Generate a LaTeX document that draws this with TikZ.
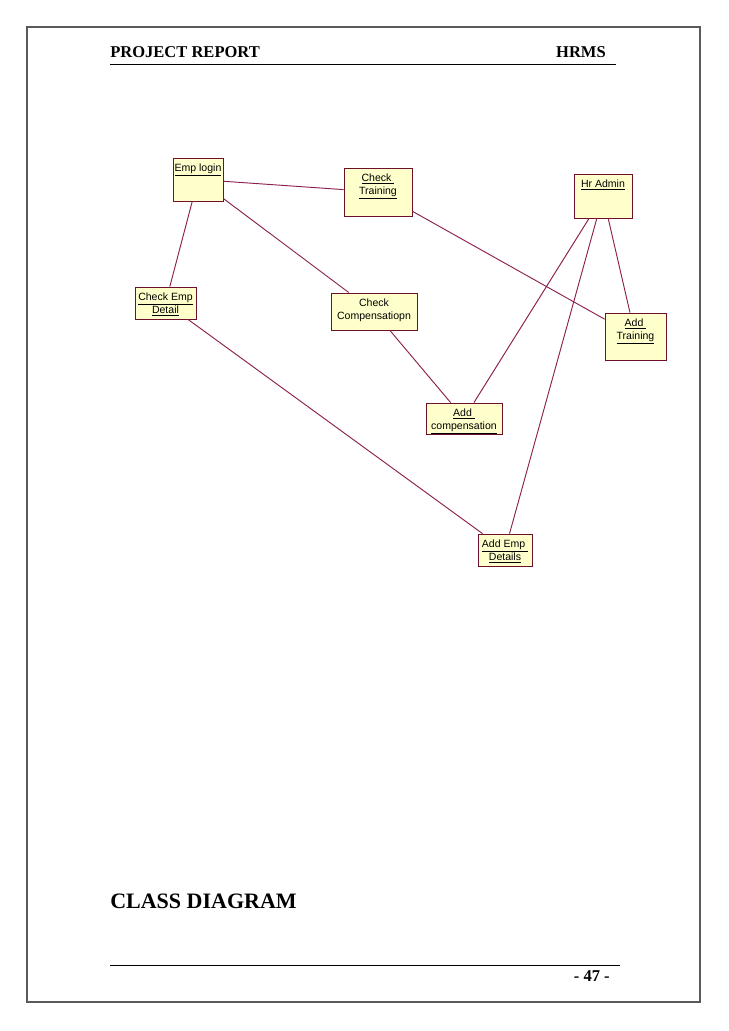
\documentclass[tikz,border=0pt]{standalone}
\usepackage{fontspec}
\setmainfont{Liberation Serif}
\newfontfamily\umlfont{Liberation Sans}
\usetikzlibrary{positioning}
\definecolor{rosefill}{HTML}{FFFFCC}
\definecolor{roseline}{HTML}{8C1F4F}
\definecolor{rosedraw}{HTML}{6E0F2C}
\definecolor{pagegray}{HTML}{5A5A5A}
\tikzset{
  boxsize/.style 2 args={minimum width=#1*0.75pt, minimum height=#2*0.75pt},
}

\begin{document}
\begin{tikzpicture}[
  x=0.75pt, y=-0.75pt,
  classbox/.style={rectangle, draw=rosedraw, fill=rosefill, line width=0.6pt, inner sep=0pt},
  boxtext/.style={font=\fontsize{7.9}{9.75}\selectfont\umlfont, align=center, inner sep=0pt, anchor=north, yshift=-4.3pt},
  assoc/.style={draw=roseline, line width=0.7pt},
  headtext/.style={font=\fontsize{12.4}{14}\selectfont\bfseries, inner sep=0pt},
]
\useasboundingbox (0,0) rectangle (728,1031);

% Page frame and header
\draw[pagegray, line width=1.5pt] (27,27) rectangle (700,1002);
\node[headtext, anchor=base west] (report) at (110,58) {PROJECT REPORT};
\node[headtext, anchor=base east] (hrms) at (606,58) {HRMS};
\draw[line width=0.75pt] (110,64.7) -- (616,64.7);

% Classes
\node[classbox, boxsize={50}{43}, label={[boxtext]north:\underline{Emp login}}] (emplogin) at (198,179.5) {};
\node[classbox, boxsize={68}{48}, label={[boxtext]north:\underline{Check\ }\\\underline{Training}}] (chktrain) at (378,192) {};
\node[classbox, boxsize={58}{44}, label={[boxtext]north:\underline{Hr Admin}}] (hradmin) at (603,196) {};
\node[classbox, boxsize={61}{47}, label={[boxtext]north:\underline{Add\ }\\\underline{Training}}] (addtrain) at (635.5,336.5) {};
\node[classbox, boxsize={61}{32}, label={[boxtext]north:\underline{Check Emp}\\\underline{Detail}}] (chkemp) at (165.5,303) {};
\node[classbox, boxsize={86}{37}, label={[boxtext]north:Check\\Compensatiopn}] (chkcomp) at (374,311.5) {};
\node[classbox, boxsize={76}{31}, label={[boxtext]north:\underline{Add\ }\\\underline{compensation}}] (addcomp) at (464,418.5) {};
\node[classbox, boxsize={54}{32}, label={[boxtext]north:\underline{Add Emp\ }\\\underline{Details}}] (addemp) at (505,550) {};

% Associations
\draw[assoc] (emplogin) -- (chktrain);
\draw[assoc] (emplogin) -- (chkemp);
\draw[assoc] (emplogin) -- (chkcomp);
\draw[assoc] (chktrain) -- (addtrain);
\draw[assoc] (hradmin) -- (addcomp);
\draw[assoc] (hradmin) -- (addemp);
\draw[assoc] (hradmin) -- (addtrain);
\draw[assoc] (chkcomp) -- (addcomp);
\draw[assoc] (chkemp) -- (addemp);

% Footer
\node[font=\fontsize{16.5}{19}\selectfont\bfseries, inner sep=0pt, anchor=base west] (caption) at (110,908.7) {CLASS DIAGRAM};
\draw[line width=0.75pt] (110,965) -- (620,965);
\node[headtext, anchor=base east] (pageno) at (610,981) {- 47 -};

\end{tikzpicture}
\end{document}
